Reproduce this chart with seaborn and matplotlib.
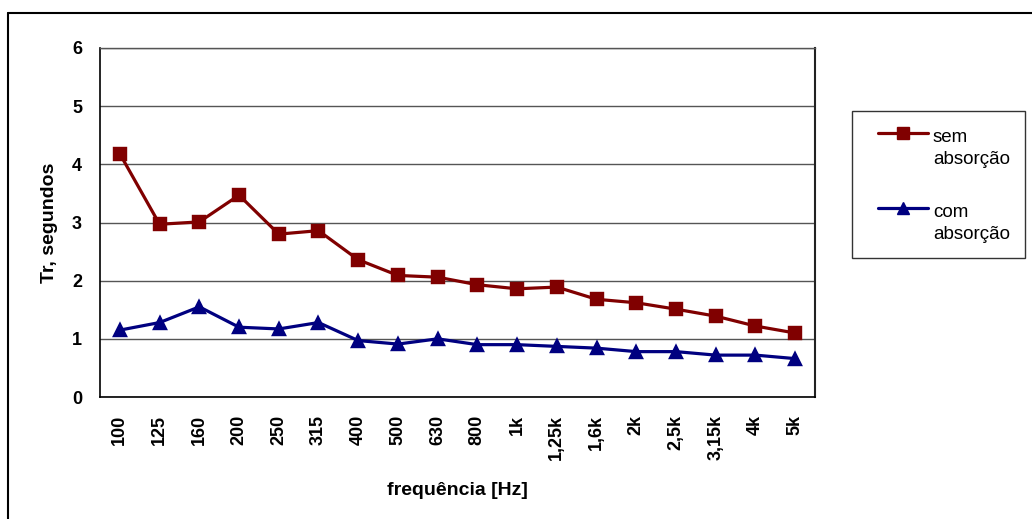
import matplotlib
matplotlib.use('Agg')
import matplotlib.pyplot as plt
from matplotlib.lines import Line2D
from matplotlib.patches import Rectangle
import seaborn as sns
import numpy as np
import pandas as pd

# Data
freqs = ['100', '125', '160', '200', '250', '315', '400', '500', '630', '800',
         '1k', '1,25k', '1,6k', '2k', '2,5k', '3,15k', '4k', '5k']
sem_absorcao = [4.18, 2.97, 3.01, 3.47, 2.80, 2.86, 2.36, 2.09, 2.06, 1.93,
                1.86, 1.89, 1.68, 1.62, 1.51, 1.39, 1.22, 1.10]
com_absorcao = [1.15, 1.28, 1.55, 1.20, 1.17, 1.28, 0.97, 0.91, 1.00, 0.90,
                0.90, 0.87, 0.84, 0.78, 0.78, 0.72, 0.72, 0.66]
series_names = ['sem\nabsorção', 'com\nabsorção']
colors = ['#800000', '#000080']
markers = ['s', '^']

df = pd.DataFrame({
    'freq': freqs * 2,
    'tr': sem_absorcao + com_absorcao,
    'serie': [series_names[0]] * len(freqs) + [series_names[1]] * len(freqs),
})

sns.set_style('white')
plt.rcParams['font.family'] = ['Liberation Sans', 'DejaVu Sans']
for key in ['text.color', 'axes.labelcolor', 'xtick.color', 'ytick.color']:
    plt.rcParams[key] = 'black'

W, H = 1032, 519
fig = plt.figure(figsize=(W / 100, H / 100), dpi=100)
ax = fig.add_axes([100 / W, 1 - 397 / H, 715 / W, 349 / H])

sns.pointplot(data=df, x='freq', y='tr', hue='serie', order=freqs,
              hue_order=series_names, palette=colors, markers=markers,
              linestyles=['-', '-'], markersize=9, linewidth=2.3,
              errorbar=None, legend=False, ax=ax, zorder=3)

ax.set_xlim(-0.5, len(freqs) - 0.5)
ax.set_ylim(0, 6)
ax.set_yticks(range(0, 7))
ax.yaxis.grid(True, color='#555555', linewidth=1)
ax.set_axisbelow(True)

# category labels centered, tick marks on category boundaries
ax.set_xticks(range(len(freqs)))
ax.set_xticklabels(freqs, rotation=90, fontweight='bold', fontsize=13)
ax.set_xticks(np.arange(-0.5, len(freqs), 1), minor=True)
ax.tick_params(axis='x', which='major', length=0, pad=13)
ax.tick_params(axis='x', which='minor', length=5, width=1, color='black', direction='out')
ax.tick_params(axis='y', length=6, width=1, color='black', direction='out', labelsize=13, pad=7)
for lbl in ax.get_yticklabels():
    lbl.set_fontweight('bold')

for side in ['left', 'bottom']:
    ax.spines[side].set_color('black')
    ax.spines[side].set_linewidth(1.2)
ax.spines['right'].set_color('#222222')
ax.spines['right'].set_linewidth(1.5)
ax.spines['top'].set_color('#555555')
ax.spines['top'].set_linewidth(1)

ax.set_xlabel('frequência [Hz]', fontweight='bold', fontsize=14)
ax.set_ylabel('Tr, segundos', fontweight='bold', fontsize=14)
ax.xaxis.set_label_coords(0.5, -0.244)
ax.yaxis.set_label_coords(-0.059, 0.5)

# legend box drawn by hand so the symbol sits on the first text line
fig.add_artist(Rectangle((852 / W, 1 - 258 / H), 173 / W, 147 / H, transform=fig.transFigure,
                         facecolor='white', edgecolor='#333333', linewidth=1))
for i, (name, c, m) in enumerate(zip(series_names, colors, markers)):
    y_line = 133 + i * 75
    fig.add_artist(Line2D([878 / W, 903 / W, 928 / W], [1 - y_line / H] * 3, color=c, marker=m,
                          markersize=9, linewidth=2.3, markevery=[1],
                          transform=fig.transFigure))
    # multi-line baseline alignment refers to the last line ("absorção")
    fig.text(933 / W, 1 - (y_line + 31) / H, name, fontsize=13.5, va='baseline', ha='left',
             linespacing=1.35)

# outer chart border (only left and top visible in the crop)
fig.add_artist(Line2D([8 / W, 8 / W], [0, 1 - 13 / H], color='black', linewidth=1.5, transform=fig.transFigure))
fig.add_artist(Line2D([8 / W, 1], [1 - 13 / H, 1 - 13 / H], color='black', linewidth=1.5, transform=fig.transFigure))

fig.savefig('out.png', dpi=100)
